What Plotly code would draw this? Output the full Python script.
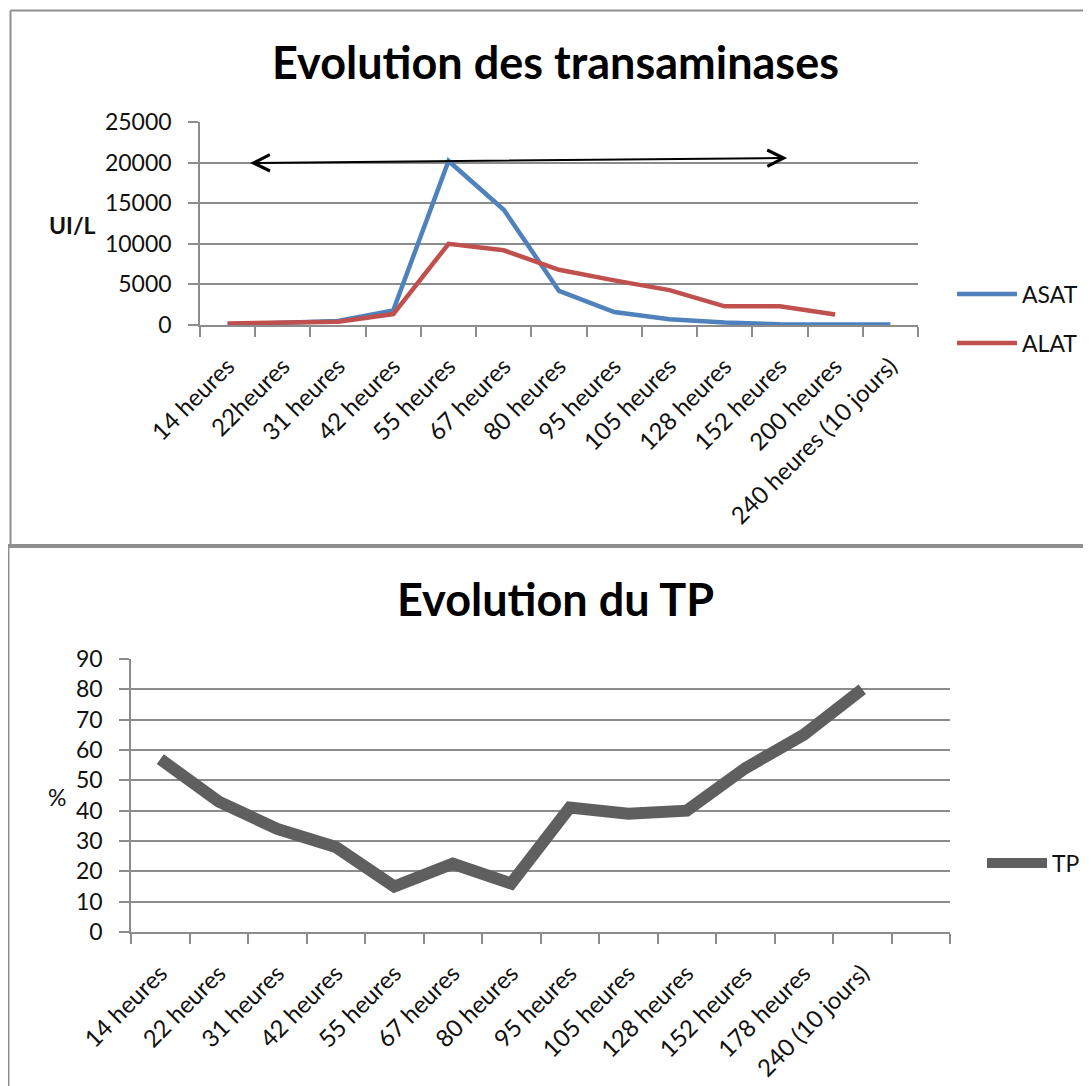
''' Evolution des transaminases et du TP '''
import plotly.graph_objects as go

# Data
hours_enz = ['14 heures', '22heures', '31 heures', '42 heures', '55 heures', '67 heures',
             '80 heures', '95 heures', '105 heures', '128 heures', '152 heures',
             '200 heures', '240 heures (10 jours)']
asat = [50, 300, 500, 1800, 20200, 14200, 4200, 1600, 700, 300, 100, 50, 50]
alat = [200, 300, 400, 1350, 10000, 9200, 6800, 5500, 4300, 2300, 2300, 1300, None]

hours_tp = ['14 heures', '22 heures', '31 heures', '42 heures', '55 heures', '67 heures',
            '80 heures', '95 heures', '105 heures', '128 heures', '152 heures',
            '178 heures', '240 (10 jours)', ' ']
tp = [57, 43, 34, 28, 15, 22.5, 16, 41, 39, 40, 54, 65, 80, None]

# the page body adds an 8px margin, so the figure is a bit smaller than the window
OFF = 8
W, H = 1091 - OFF, 1086 - OFF
FONT = 'Lato'
GRID = '#8c8c8c'

def px_x(v):
    return (v - OFF) / W

def px_y(v):
    return 1 - (v - OFF) / H

fig = go.Figure()

fig.add_trace(go.Scatter(x=hours_enz, y=asat, mode='lines', name='ASAT',
                         line=dict(color='#4f81bd', width=4.5),
                         xaxis='x', yaxis='y', legend='legend'))
fig.add_trace(go.Scatter(x=hours_enz, y=alat, mode='lines', name='ALAT',
                         line=dict(color='#c0504d', width=4.5),
                         xaxis='x', yaxis='y', legend='legend2'))
fig.add_trace(go.Scatter(x=hours_tp, y=tp, mode='lines', name='TP',
                         line=dict(color='#5f5f5f', width=12),
                         xaxis='x2', yaxis='y2', legend='legend3'))

xcommon = dict(type='category', automargin=False, showgrid=False, showline=True,
               linecolor=GRID, linewidth=1.5, ticks='outside', tickson='boundaries',
               ticklen=10, tickcolor=GRID, tickwidth=1.5, tickangle=-45,
               ticklabelstandoff=16, tickfont=dict(family=FONT, size=24, color='#111'))
ycommon = dict(automargin=False, showgrid=True, gridcolor=GRID, gridwidth=1.5, showline=True,
               linecolor=GRID, linewidth=1.5, ticks='outside', ticklen=10, tickcolor=GRID,
               tickwidth=1.5, ticklabelstandoff=12, zeroline=False, tickformat='d',
               tickfont=dict(family=FONT, size=23, color='#111'))

legend_style = dict(font=dict(family=FONT, size=23, color='#111'), bgcolor='rgba(0,0,0,0)',
                    xanchor='left', yanchor='middle', itemwidth=60)

fig.update_layout(
    template='none',
    width=W, height=H,
    margin=dict(l=0, r=0, t=0, b=0, autoexpand=False),
    paper_bgcolor='white', plot_bgcolor='white',
    xaxis=dict(xcommon, domain=[px_x(200), px_x(918)], range=[-0.5, 12.5], anchor='y',
               categoryorder='array', categoryarray=hours_enz),
    yaxis=dict(ycommon, domain=[px_y(325), px_y(122)], range=[0, 25000], dtick=5000, anchor='x'),
    xaxis2=dict(xcommon, domain=[px_x(131), px_x(950)], range=[-0.5, 13.5], anchor='y2',
                categoryorder='array', categoryarray=hours_tp),
    yaxis2=dict(ycommon, domain=[px_y(932), px_y(659)], range=[0, 90], dtick=10, anchor='x2'),
    legend=dict(legend_style, x=px_x(952), y=px_y(294)),
    legend2=dict(legend_style, x=px_x(952), y=px_y(343)),
    legend3=dict(legend_style, x=px_x(982), y=px_y(863)),
    showlegend=True,
)

# Titles and axis labels
label = dict(xref='paper', yref='paper', showarrow=False, xanchor='center', yanchor='middle')
fig.add_annotation(label, text='<b>Evolution des transaminases</b>', x=px_x(555), y=px_y(62),
                   font=dict(family=FONT, size=45, color='black'))
fig.add_annotation(label, text='<b>Evolution du TP</b>', x=px_x(555), y=px_y(599),
                   font=dict(family=FONT, size=45, color='black'))
fig.add_annotation(label, text='<b>UI/L</b>', x=px_x(72), y=px_y(225),
                   font=dict(family=FONT, size=23, color='#111'))
fig.add_annotation(label, text='%', x=px_x(57), y=px_y(797),
                   font=dict(family=FONT, size=23, color='#111'))

# Double-headed arrow drawn over the top chart
fig.add_annotation(text='', x=10.13, y=20570, ax=0.38, ay=19950,
                   xref='x', yref='y', axref='x', ayref='y',
                   showarrow=True, arrowside='end+start', arrowhead=5, startarrowhead=5,
                   arrowsize=1.6, startarrowsize=1.6, arrowwidth=2, arrowcolor='black',
                   standoff=0, startstandoff=0)

# Panel borders
border = dict(type='line', xref='paper', yref='paper', line=dict(color='#8f8f8f', width=2))
fig.add_shape(border, x0=px_x(10.5), x1=1, y0=px_y(10.5), y1=px_y(10.5))
fig.add_shape(border, x0=px_x(10.5), x1=px_x(10.5), y0=px_y(10.5), y1=px_y(546))
fig.add_shape(border, x0=px_x(8.5), x1=px_x(8.5), y0=px_y(546), y1=0)
fig.add_shape(dict(border, line=dict(color='#8f8f8f', width=4)),
              x0=px_x(8), x1=1, y0=px_y(546), y1=px_y(546))

fig.write_html('out.html')
